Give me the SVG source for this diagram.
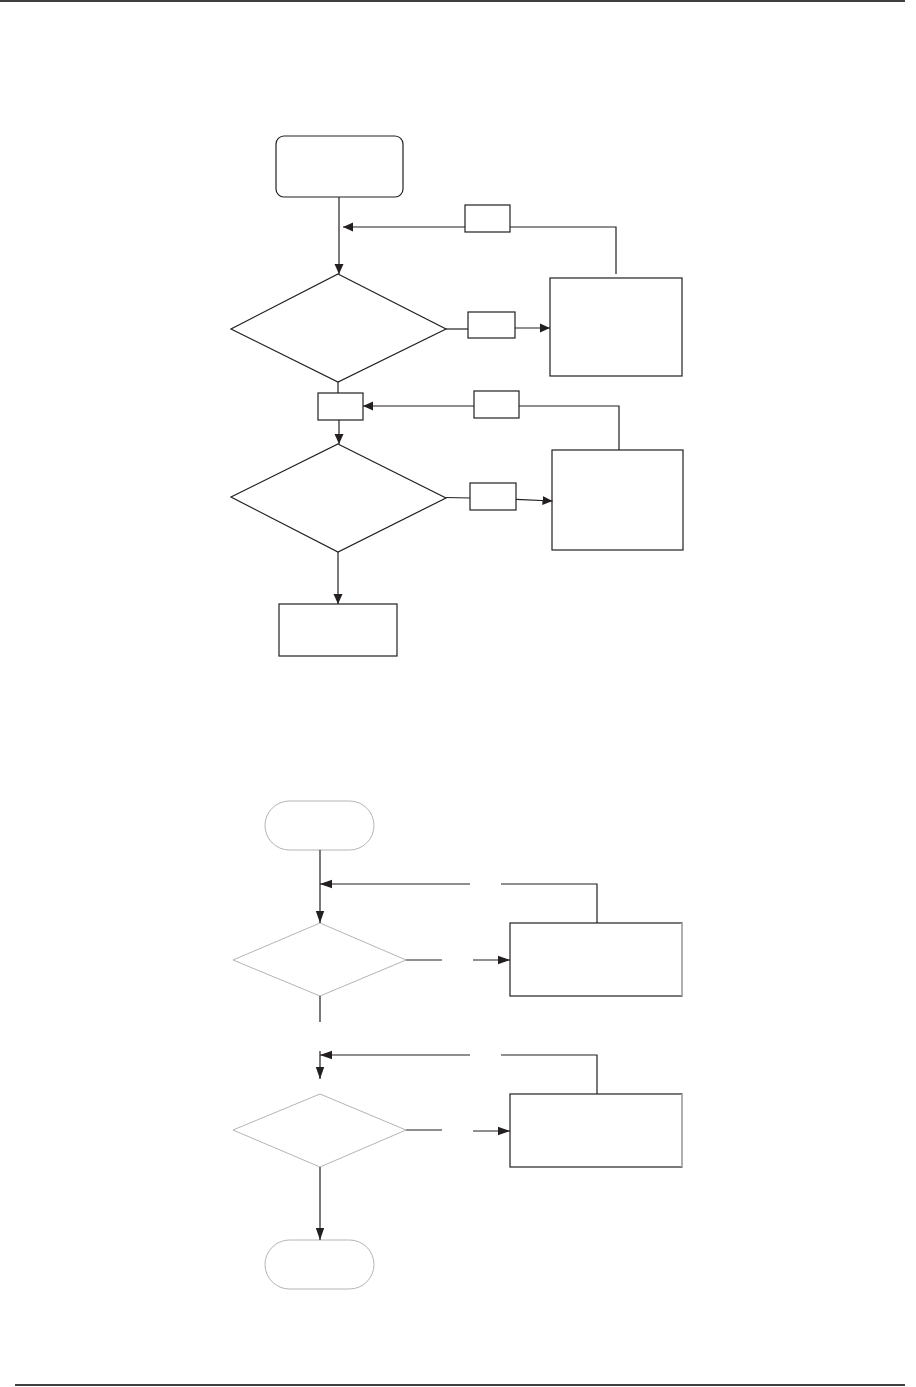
<svg xmlns="http://www.w3.org/2000/svg" width="916" height="1387" viewBox="0 0 916 1387">
<style>
.n{fill:#fff;stroke:#231f20;stroke-width:1.2}
.g{fill:#fff;stroke:#b4b4b4;stroke-width:1}
.c{fill:none;stroke:#231f20;stroke-width:1.2}
.rule{stroke:#000;stroke-width:1.5}
</style>
<defs>
<marker id="ah" markerUnits="userSpaceOnUse" markerWidth="10" markerHeight="10" refX="10" refY="5" orient="auto">
<path d="M0,0.5 L10,5 L0,9.5 z" fill="#231f20"/>
</marker>
<marker id="ah2" markerUnits="userSpaceOnUse" markerWidth="12" markerHeight="10" refX="12" refY="5" orient="auto">
<path d="M0,0.8 L12,5 L0,9.2 z" fill="#231f20"/>
</marker>
</defs>
<rect width="916" height="1387" fill="#fff"/>
<line class="rule" x1="0" y1="1" x2="905" y2="1"/>
<line class="rule" x1="15" y1="1385" x2="905" y2="1385"/>

<g id="start1"><rect class="n" x="276" y="136" width="127" height="61" rx="8"/></g>
<g id="lbl1"><rect class="n" x="465" y="205" width="45" height="27"/></g>
<g id="dec1"><polygon class="n" points="338,274 446,329 338,382 231,329"/></g>
<g id="lbl2"><rect class="n" x="468" y="312" width="47" height="26"/></g>
<g id="proc1"><rect class="n" x="550" y="278" width="132" height="98"/></g>
<g id="join1"><rect class="n" x="318" y="393" width="45" height="27"/></g>
<g id="lbl3"><rect class="n" x="474" y="391" width="45" height="27"/></g>
<g id="dec2"><polygon class="n" points="338,444 446,498 338,552 231,497"/></g>
<g id="lbl4"><rect class="n" x="470" y="483" width="46" height="27"/></g>
<g id="proc2"><rect class="n" x="552" y="450" width="131" height="100"/></g>
<g id="end1"><rect class="n" x="279" y="604" width="118" height="52"/></g>

<g id="term2"><rect class="g" x="265" y="801" width="109" height="49" rx="24.5"/></g>
<g id="dec3"><polygon class="g" points="320,923 406,960 320,996 233,960"/></g>
<g id="proc3"><rect class="n" x="510" y="923" width="172" height="73"/><line x1="682" y1="923" x2="682" y2="996" stroke="#c8c8c8" stroke-width="1.4"/></g>
<g id="dec4"><polygon class="g" points="320,1094 406,1130 320,1167 233,1130"/></g>
<g id="proc4"><rect class="n" x="510" y="1094" width="172" height="73"/><line x1="682" y1="1094" x2="682" y2="1167" stroke="#c8c8c8" stroke-width="1.4"/></g>
<g id="term3"><rect class="g" x="265" y="1240" width="109" height="49" rx="24.5"/></g>

<g id="connectors">
<path class="c" d="M339,197 V274" marker-end="url(#ah)"/>
<path class="c" d="M616,274 V227 H510"/>
<path class="c" d="M465,227 H343" marker-end="url(#ah)"/>
<path class="c" d="M446,329 H468"/>
<path class="c" d="M515,328 H550" marker-end="url(#ah)"/>
<path class="c" d="M338,382 V393"/>
<path class="c" d="M619,450 V406 H519"/>
<path class="c" d="M474,406 H363" marker-end="url(#ah)"/>
<path class="c" d="M339,420 V444" marker-end="url(#ah)"/>
<path class="c" d="M446,497.5 L470,498"/>
<path class="c" d="M516,499.3 L552.5,501" marker-end="url(#ah)"/>
<path class="c" d="M338,552 V604" marker-end="url(#ah)"/>

<path class="c" d="M320,850 V923" marker-end="url(#ah2)"/>
<path class="c" d="M597,923 V884 H501"/>
<path class="c" d="M470,884 H320" marker-end="url(#ah2)"/>
<path class="c" d="M406,960 H442"/>
<path class="c" d="M473,960 H510" marker-end="url(#ah2)"/>
<path class="c" d="M320,996 V1022"/>
<path class="c" d="M320,1051 V1079" marker-end="url(#ah2)"/>
<path class="c" d="M597,1094 V1055 H501"/>
<path class="c" d="M470,1055 H320" marker-end="url(#ah2)"/>
<path class="c" d="M406,1130 H442"/>
<path class="c" d="M473,1131 H510" marker-end="url(#ah2)"/>
<path class="c" d="M320,1167 V1240" marker-end="url(#ah2)"/>
</g>
</svg>
